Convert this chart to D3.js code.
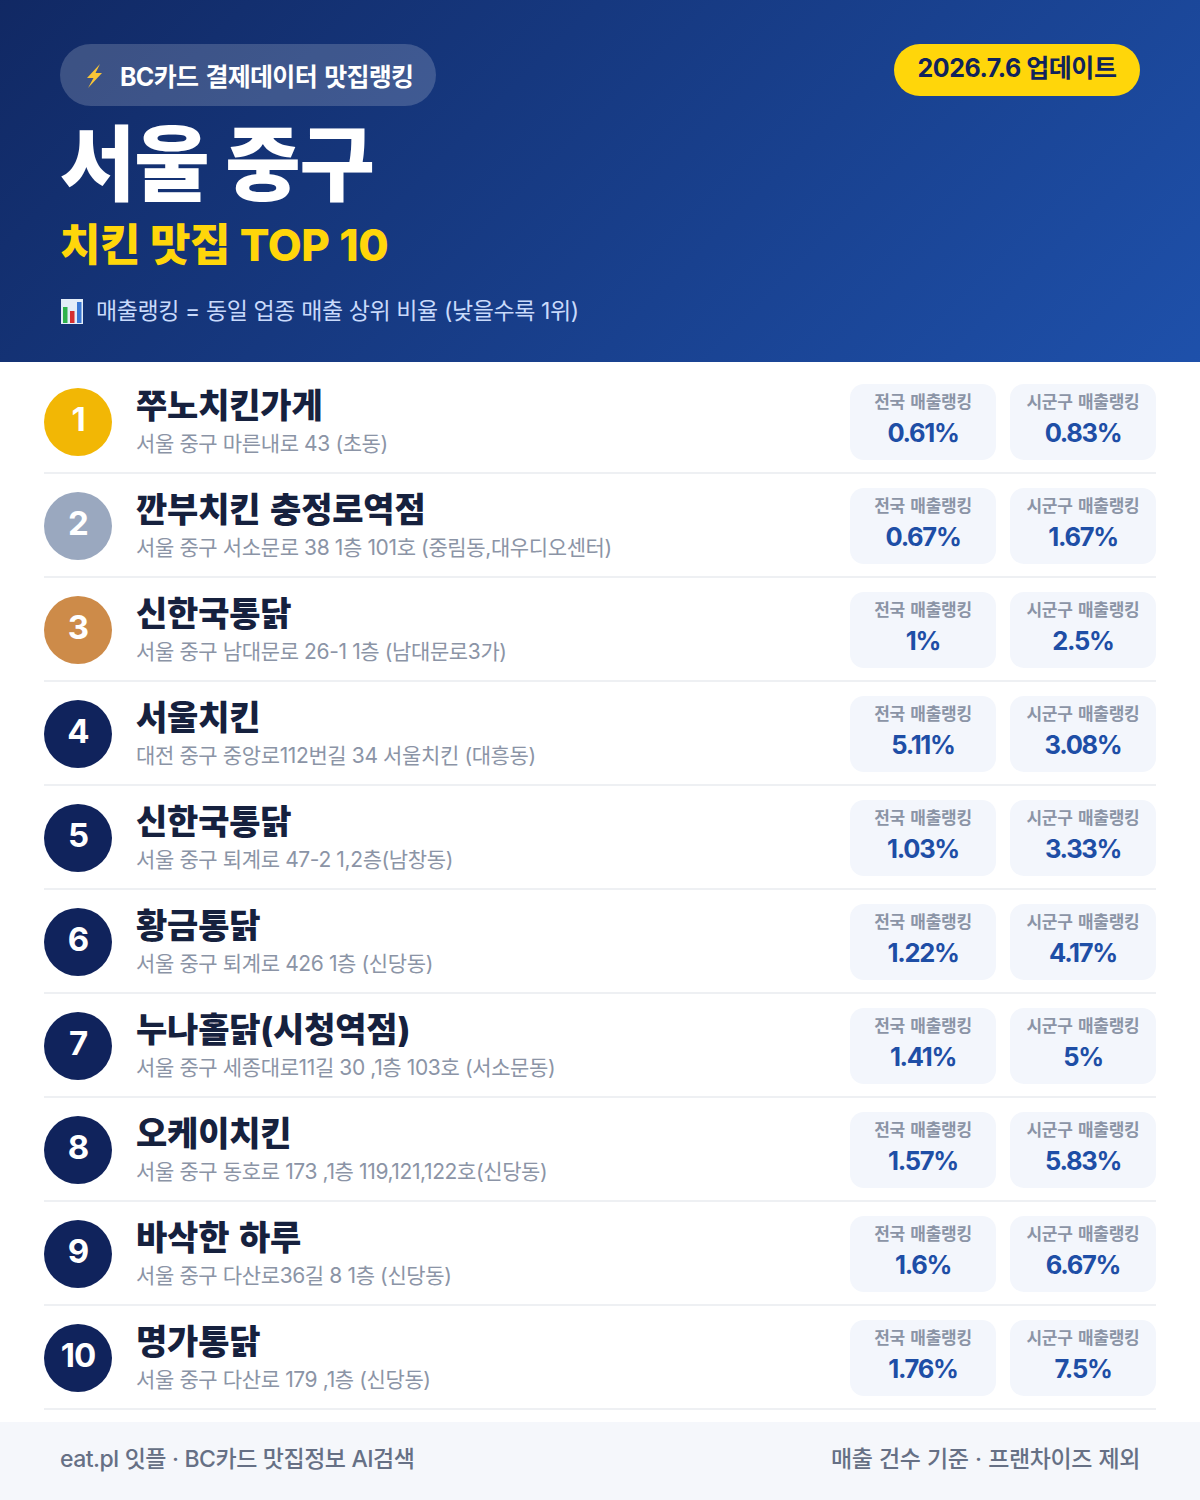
<!DOCTYPE html>
<html>
  <head>
    <meta charset="UTF-8">
    <script src="https://cdn.jsdelivr.net/npm/d3@7"></script>
    <title>서울 중구 치킨 맛집 TOP 10</title>
    <style>
      html, body { margin: 0; padding: 0; background: #fff; }
      svg { display: block; }
      text { font-family: "Inter", "Noto Sans CJK KR", sans-serif; }
    </style>
  </head>
  <body>
    <svg id="chart" width="1200" height="1500"></svg>
  <script>
      var ranks = [1, 2, 3, 4, 5, 6, 7, 8, 9, 10];
      var names = ["쭈노치킨가게", "깐부치킨 충정로역점", "신한국통닭", "서울치킨", "신한국통닭", "황금통닭", "누나홀닭(시청역점)", "오케이치킨", "바삭한 하루", "명가통닭"];
      var addresses = [
        "서울 중구 마른내로 43 (초동)",
        "서울 중구 서소문로 38 1층 101호 (중림동,대우디오센터)",
        "서울 중구 남대문로 26-1 1층 (남대문로3가)",
        "대전 중구 중앙로112번길 34 서울치킨 (대흥동)",
        "서울 중구 퇴계로 47-2 1,2층(남창동)",
        "서울 중구 퇴계로 426 1층 (신당동)",
        "서울 중구 세종대로11길 30 ,1층 103호 (서소문동)",
        "서울 중구 동호로 173 ,1층 119,121,122호(신당동)",
        "서울 중구 다산로36길 8 1층 (신당동)",
        "서울 중구 다산로 179 ,1층 (신당동)"
      ];
      var nationalRank = ["0.61", "0.67", "1", "5.11", "1.03", "1.22", "1.41", "1.57", "1.6", "1.76"];
      var districtRank = ["0.83", "1.67", "2.5", "3.08", "3.33", "4.17", "5", "5.83", "6.67", "7.5"];
      var badgeColors = ["#f2b705", "#9aa8bf", "#cd8b49"];
      var defaultBadge = "#10235c";

      var svg = d3.select("#chart");
      var defs = svg.append("defs");
      var grad = defs.append("linearGradient").attr("id", "headerGrad")
        .attr("gradientUnits", "userSpaceOnUse")
        .attr("x1", 160).attr("y1", -260).attr("x2", 1040).attr("y2", 620);
      grad.append("stop").attr("offset", "0%").attr("stop-color", "#10265f");
      grad.append("stop").attr("offset", "100%").attr("stop-color", "#1f53af");

      // header
      svg.append("rect").attr("width", 1200).attr("height", 362).attr("fill", "url(#headerGrad)");
      svg.append("rect").attr("x", 60).attr("y", 44).attr("width", 376).attr("height", 62).attr("rx", 31)
        .attr("fill", "#fff").attr("fill-opacity", 0.18);

      // bolt emoji, no emoji font here
      svg.append("path")
        .attr("d", "M100 64 L87 78 L93.5 78 L88 88 L102 73 L95.5 73 Z")
        .attr("fill", "#f8c537");

      function label(x, y, str, size, weight, fill, anchor, spacing, wordGap) {
        return svg.append("text").attr("x", x).attr("y", y).text(str)
          .attr("font-size", size).attr("font-weight", weight).attr("fill", fill)
          .attr("text-anchor", anchor || "start")
          .attr("letter-spacing", spacing || 0)
          .attr("word-spacing", wordGap || 0);
      }

      label(120, 86, "BC카드 결제데이터 맛집랭킹", 25, 700, "#fff", "start", -0.7, 2);
      label(60, 194, "서울 중구", 82, 800, "#fff", "start", -1.2);
      label(60, 260.5, "치킨 맛집 TOP 10", 44, 800, "#ffd60a", "start", -0.4, 0.5);
      label(96, 319, "매출랭킹 = 동일 업종 매출 상위 비율 (낮을수록 1위)", 23, 400, "#c9dafb", "start", -0.4);

      // chart emoji
      var icon = svg.append("g");
      icon.append("rect").attr("x", 61).attr("y", 299).attr("width", 22).attr("height", 25).attr("fill", "#e3edf8");
      icon.selectAll("rect.bar").data([[63, 307, 4.5, "#2fb24c"], [70, 311, 4.5, "#d62f2f"], [77, 302, 4.5, "#3a78d4"]])
        .enter().append("rect").attr("class", "bar")
        .attr("x", function(d){ return d[0]; }).attr("y", function(d){ return d[1]; })
        .attr("width", function(d){ return d[2]; }).attr("height", function(d){ return 323 - d[1]; })
        .attr("fill", function(d){ return d[3]; });

      // update pill
      svg.append("rect").attr("x", 894).attr("y", 44).attr("width", 246).attr("height", 52).attr("rx", 26).attr("fill", "#ffd60a");
      label(1017, 77, "2026.7.6 업데이트", 25, 700, "#10235c", "middle", -0.45);

      // rows
      var rowY = d3.scaleLinear().domain([1, 10]).range([362, 1298]);
      var rows = svg.selectAll("g.row").data(ranks).enter().append("g").attr("class", "row")
        .attr("transform", function(d){ return "translate(0," + rowY(d) + ")"; });

      rows.append("rect").attr("x", 44).attr("y", 110).attr("width", 1112).attr("height", 2).attr("fill", "#eef0f3");
      rows.append("circle").attr("cx", 78).attr("cy", 60).attr("r", 34)
        .attr("fill", function(d, i){ return badgeColors[i] || defaultBadge; });
      rows.append("text").attr("x", 78).attr("y", 69).attr("text-anchor", "middle")
        .attr("font-size", 33).attr("font-weight", 700).attr("fill", "#fff").attr("letter-spacing", -1)
        .text(function(d){ return d; });
      rows.append("text").attr("x", 136).attr("y", 55.5)
        .attr("font-size", 34).attr("font-weight", 800).attr("fill", "#16213e").attr("letter-spacing", -0.2)
        .attr("word-spacing", 2.5)
        .text(function(d, i){ return names[i]; });
      rows.append("text").attr("x", 136).attr("y", 89)
        .attr("font-size", 21).attr("font-weight", 400).attr("fill", "#8b94a6").attr("letter-spacing", -0.38)
        .text(function(d, i){ return addresses[i]; });

      var cards = [
        {x: 850, title: "전국 매출랭킹", values: nationalRank},
        {x: 1010, title: "시군구 매출랭킹", values: districtRank}
      ];
      cards.forEach(function(c){
        rows.append("rect").attr("x", c.x).attr("y", 22).attr("width", 146).attr("height", 76).attr("rx", 14).attr("fill", "#f3f6fc");
        rows.append("text").attr("x", c.x + 73).attr("y", 45.5).attr("text-anchor", "middle")
          .attr("font-size", 17).attr("font-weight", 700).attr("fill", "#8b94a6").attr("letter-spacing", -0.25)
          .attr("word-spacing", 1.5)
          .text(c.title);
        rows.append("text").attr("x", c.x + 73).attr("y", 80).attr("text-anchor", "middle")
          .attr("font-size", 25.5).attr("font-weight", 700).attr("fill", "#1e4ea6").attr("letter-spacing", -1.3)
          .text(function(d, i){ return c.values[i] + "%"; });
      });

      // footer
      svg.append("rect").attr("y", 1422).attr("width", 1200).attr("height", 78).attr("fill", "#f5f7fb");
      label(60, 1467, "eat.pl 잇플 · BC카드 맛집정보 AI검색", 23, 500, "#667085", "start", -0.5, 0.4);
      label(1140, 1467, "매출 건수 기준 · 프랜차이즈 제외", 23, 500, "#667085", "end", -0.4, 0.8);
  </script>
  </body>
</html>
